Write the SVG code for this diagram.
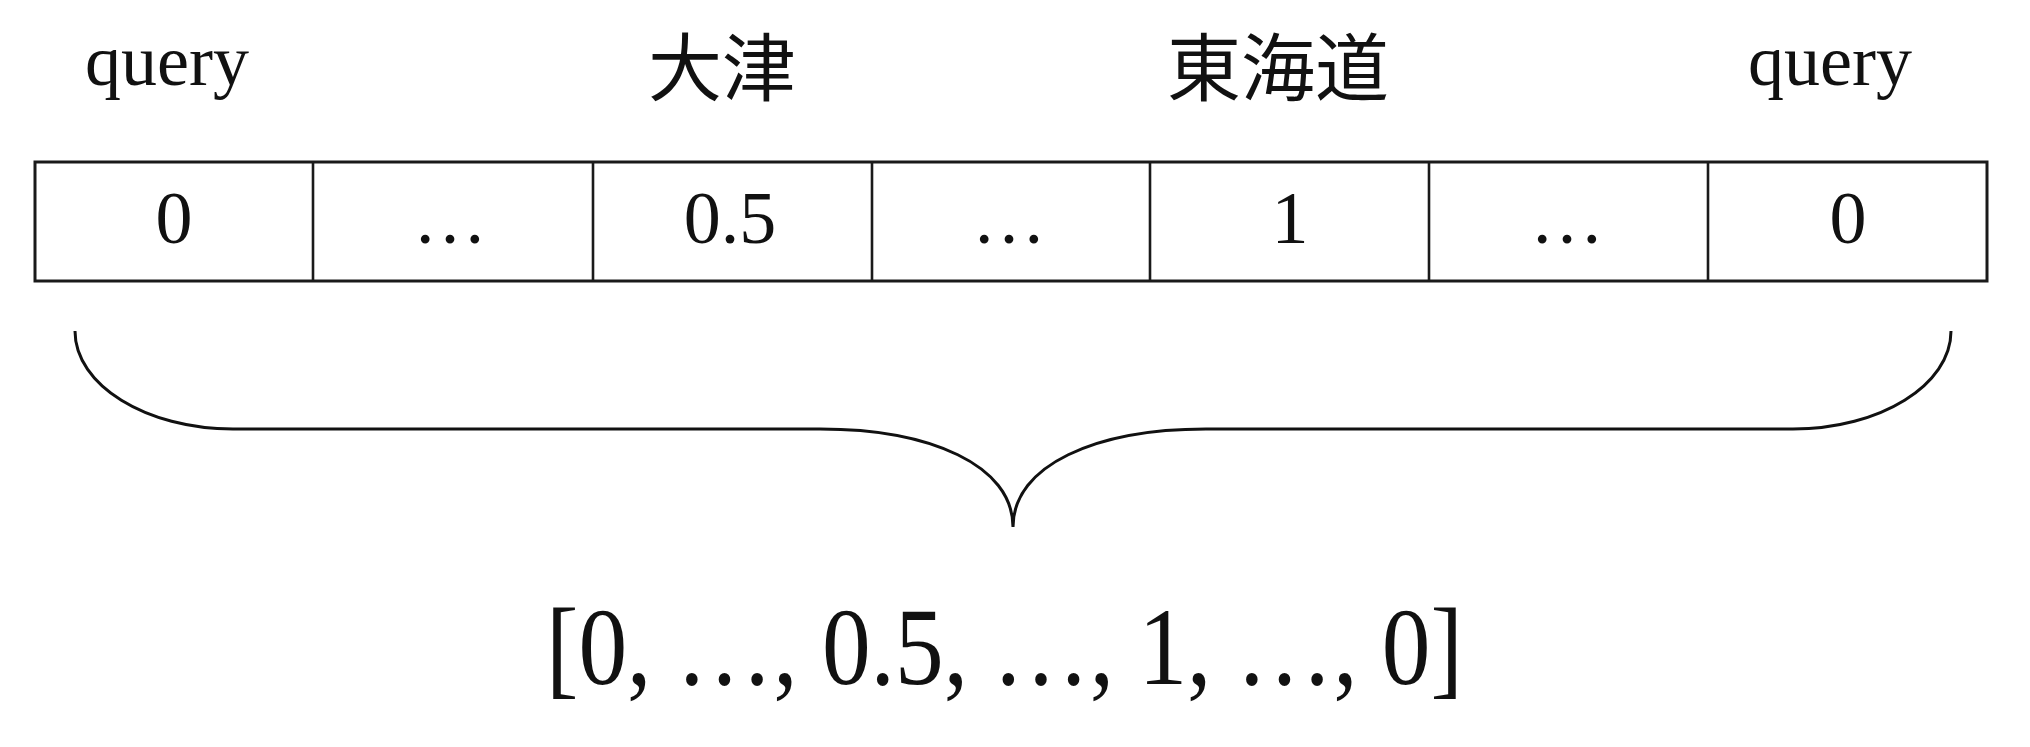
<svg xmlns="http://www.w3.org/2000/svg" width="2030" height="747" viewBox="0 0 2030 747">
<style>
.lbl{font-family:"Liberation Serif","Noto Sans CJK JP",serif;font-size:72px;fill:#111;}
.cjk{font-family:"Liberation Serif","Noto Sans CJK JP",serif;font-size:74px;fill:#111;text-anchor:middle;}
.val{font-family:"Liberation Serif",serif;font-size:74px;fill:#111;text-anchor:middle;}
.cell{fill:#fff;stroke:#1a1a1a;stroke-width:3;}
.div{stroke:#1a1a1a;stroke-width:2.6;}
.brace{fill:none;stroke:#111;stroke-width:3;}
.res{font-family:"Liberation Serif",serif;font-size:110px;fill:#111;}
</style>
<rect width="2030" height="747" fill="#fff"/>
<g id="labels">
<text class="lbl" x="85" y="85">query</text>
<text class="cjk" x="722" y="95">大津</text>
<text class="cjk" x="1278" y="95">東海道</text>
<text class="lbl" x="1748" y="85">query</text>
</g>
<g id="vector">
<rect class="cell" x="35" y="162" width="1952" height="119"/>
<line class="div" x1="313" y1="162" x2="313" y2="281"/>
<line class="div" x1="593" y1="162" x2="593" y2="281"/>
<line class="div" x1="872" y1="162" x2="872" y2="281"/>
<line class="div" x1="1150" y1="162" x2="1150" y2="281"/>
<line class="div" x1="1429" y1="162" x2="1429" y2="281"/>
<line class="div" x1="1708" y1="162" x2="1708" y2="281"/>
</g>
<g id="cell1"><text class="val" x="174" y="243">0</text></g>
<g id="cell2"><text class="val" x="450" y="243">…</text></g>
<g id="cell3"><text class="val" x="730" y="243">0.5</text></g>
<g id="cell4"><text class="val" x="1009" y="243">…</text></g>
<g id="cell5"><text class="val" x="1290" y="243">1</text></g>
<g id="cell6"><text class="val" x="1567" y="243">…</text></g>
<g id="cell7"><text class="val" x="1848" y="243">0</text></g>
<g id="connectors">
<path class="brace" d="M75,331 C75,385 146,429 233,429 L820,429 C930,429 1013,465 1013,527 C1013,465 1096,429 1206,429 L1793,429 C1880,429 1951,385 1951,331"/>
</g>
<g id="result">
<text class="res" x="546" y="684" textLength="917" lengthAdjust="spacingAndGlyphs">[0, …, 0.5, …, 1, …, 0]</text>
</g>
</svg>
